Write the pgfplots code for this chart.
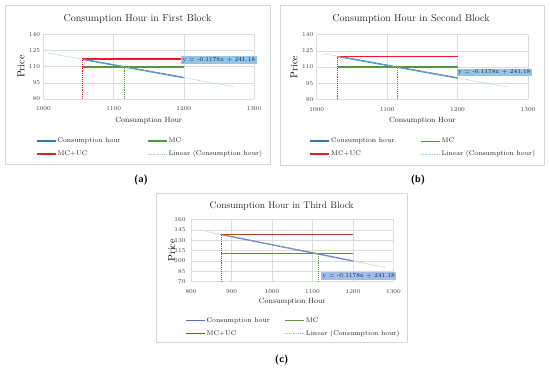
\documentclass[border=0pt]{standalone}
\usepackage{pgfplots}
\pgfplotsset{compat=1.18}
\definecolor{cblue}{HTML}{3279B0}
\definecolor{cgreen}{HTML}{4E973E}
\definecolor{cred}{HTML}{EE1C25}
\definecolor{ctrend}{HTML}{9CC6E4}
\definecolor{eqblue}{HTML}{92C5E8}
\definecolor{eqblueC}{HTML}{A3BDEA}
\definecolor{cpurple}{HTML}{5A68C8}
\definecolor{cbrown}{HTML}{A04E22}
\definecolor{cgreenC}{HTML}{62923A}
\definecolor{ctrendC}{HTML}{A9B2E6}
\definecolor{gridc}{HTML}{DCDCDC}
\definecolor{framec}{HTML}{D6D6D6}
\tikzset{eqbox/.style={fill=#1, inner xsep=1.5pt, inner ysep=1.3pt, font=\fontsize{6}{7}\selectfont, text=black!85}}
\pgfplotsset{
  panel/.style={
    scale only axis, clip=false,
    axis line style={draw=none},
    grid=major, grid style={draw=gridc, line width=0.5pt},
    major tick length=0pt,
    /pgf/number format/1000 sep={},
    tick label style={font=\fontsize{6.5}{7}\selectfont, text=black!75},
    xticklabel style={yshift=-4.5pt},
    xlabel={Consumption Hour}, ylabel={Price},
    label style={font=\fontsize{7.5}{9}\selectfont, text=black!85},
    every axis y label/.style={at={(axis description cs:-0.107,0.5)}, rotate=90, anchor=center},
    legend columns=2, legend cell align=left,
    legend image code/.code={\draw[#1, line cap=butt] (0pt,0pt) -- (19pt,0pt);},
    legend style={draw=none, fill=none, inner sep=0pt,
      font=\fontsize{6.8}{8}\selectfont, text=black!85,
      nodes={inner sep=1pt},
      /tikz/every even column/.append style={column sep=25pt},
      row sep=4.5pt},
  },
}
\begin{document}
\begin{tikzpicture}[x=1pt,y=1pt]
\useasboundingbox (0pt,0pt) rectangle (550pt,369pt);
% frames
\draw[framec, line width=0.6pt] (5pt,205pt) rectangle (270pt,364pt);
\draw[framec, line width=0.6pt] (280pt,204pt) rectangle (544pt,364pt);
\draw[framec, line width=0.6pt] (156.7pt,26.3pt) rectangle (407.7pt,175.7pt);

% ---------- (a)
\begin{axis}[panel, at={(43.5pt,270pt)}, anchor=south west,
  width=210.5pt, height=64.7pt,
  xmin=1000, xmax=1300, ymin=80, ymax=140,
  xtick={1000,1100,1200,1300}, ytick={80,95,110,125,140},
  xlabel style={at={(axis description cs:0.5,-0.335)}, anchor=center},
  legend style={at={(axis description cs:-0.036,-0.75)}, anchor=west}]
\addplot[cblue, line width=1.4pt] coordinates {(1055,116.9) (1200,99.8)};
\addlegendentry{Consumption hour}
\addplot[cgreen, line width=1.8pt] coordinates {(1055,110) (1200,110)};
\addlegendentry{MC}
\addplot[cred, line width=1.3pt] coordinates {(1055,117) (1200,117)};
\addlegendentry{MC+UC}
\addplot[ctrend, line width=0.8pt, densely dotted] coordinates {(1007,122.56) (1272,91.34)};
\addlegendentry{Linear (Consumption hour)}
\addplot[cred, line width=0.9pt, densely dotted, forget plot] coordinates {(1055,80) (1055,117)};
\addplot[cgreen, line width=0.9pt, densely dotted, forget plot] coordinates {(1115,80) (1115,110)};
\node[eqbox=eqblue] at (axis cs:1250,116.3) {y = -0.1178x + 241.18};
\end{axis}

% ---------- (b)
\begin{axis}[panel, at={(316.7pt,269.7pt)}, anchor=south west,
  width=211.3pt, height=64.6pt,
  xmin=1000, xmax=1300, ymin=80, ymax=140,
  xtick={1000,1100,1200,1300}, ytick={80,95,110,125,140},
  xlabel style={at={(axis description cs:0.5,-0.335)}, anchor=center},
  legend style={at={(axis description cs:-0.034,-0.75)}, anchor=west}]
\addplot[cblue, line width=1.4pt] coordinates {(1030,119.85) (1200,99.8)};
\addlegendentry{Consumption hour}
\addplot[cgreen, line width=1.2pt] coordinates {(1030,110) (1200,110)};
\addlegendentry{MC}
\addplot[cred, line width=1.4pt] coordinates {(1030,120) (1200,120)};
\addlegendentry{MC+UC}
\addplot[ctrend, line width=0.8pt, densely dotted] coordinates {(1011,122.08) (1272,91.34)};
\addlegendentry{Linear (Consumption hour)}
\addplot[cred, line width=0.9pt, densely dotted, forget plot] coordinates {(1030,80) (1030,120)};
\addplot[cgreen, line width=0.9pt, densely dotted, forget plot] coordinates {(1115,80) (1115,110)};
\node[eqbox=eqblue] at (axis cs:1252,104.9) {y = -0.1178x + 241.18};
\end{axis}

% ---------- (c)
\begin{axis}[panel, at={(191pt,87.5pt)}, anchor=south west,
  width=202.5pt, height=62pt,
  xmin=800, xmax=1300, ymin=70, ymax=160,
  xtick={800,900,1000,1100,1200,1300}, ytick={70,85,100,115,130,145,160},
  tick label style={font=\fontsize{6.2}{7}\selectfont},
  yticklabel style={xshift=-2pt},
  xlabel style={at={(axis description cs:0.5,-0.326)}, anchor=center},
  every axis y label/.style={at={(axis description cs:-0.095,0.5)}, rotate=90, anchor=center},
  legend style={at={(axis description cs:-0.03,-0.734)}, anchor=west,
    /tikz/every even column/.append style={column sep=14pt}}]
\addplot[cpurple, line width=1.2pt] coordinates {(874,138.2) (1200,99.8)};
\addlegendentry{Consumption hour}
\addplot[cgreenC, line width=1.1pt] coordinates {(874,110) (1200,110)};
\addlegendentry{MC}
\addplot[cbrown, line width=1.5pt] coordinates {(874,138) (1200,138)};
\addlegendentry{MC+UC}
\addplot[ctrendC, line width=0.8pt, densely dotted] coordinates {(837,142.58) (1279,90.51)};
\addlegendentry{Linear (Consumption hour)}
\addplot[cbrown, line width=0.9pt, densely dotted, forget plot] coordinates {(874,70) (874,138)};
\addplot[cgreenC, line width=0.9pt, densely dotted, forget plot] coordinates {(1114,70) (1114,110)};
\node[eqbox=eqblueC] at (axis cs:1214,78) {y = -0.1178x + 241.18};
\end{axis}

% titles and sub-labels
\node[font=\fontsize{10}{12}\selectfont, text=black!85] at (137.5pt,350pt) {Consumption Hour in First Block};
\node[font=\fontsize{10}{12}\selectfont, text=black!85] at (411pt,350pt) {Consumption Hour in Second Block};
\node[font=\fontsize{9.5}{11}\selectfont, text=black!85] at (281.7pt,163pt) {Consumption Hour in Third Block};
\node[font=\fontsize{10}{12}\selectfont\sffamily\bfseries] at (141pt,189pt) {(a)};
\node[font=\fontsize{10}{12}\selectfont\sffamily\bfseries] at (418pt,189pt) {(b)};
\node[font=\fontsize{10}{12}\selectfont\sffamily\bfseries] at (281.7pt,9pt) {(c)};
\end{tikzpicture}
\end{document}
